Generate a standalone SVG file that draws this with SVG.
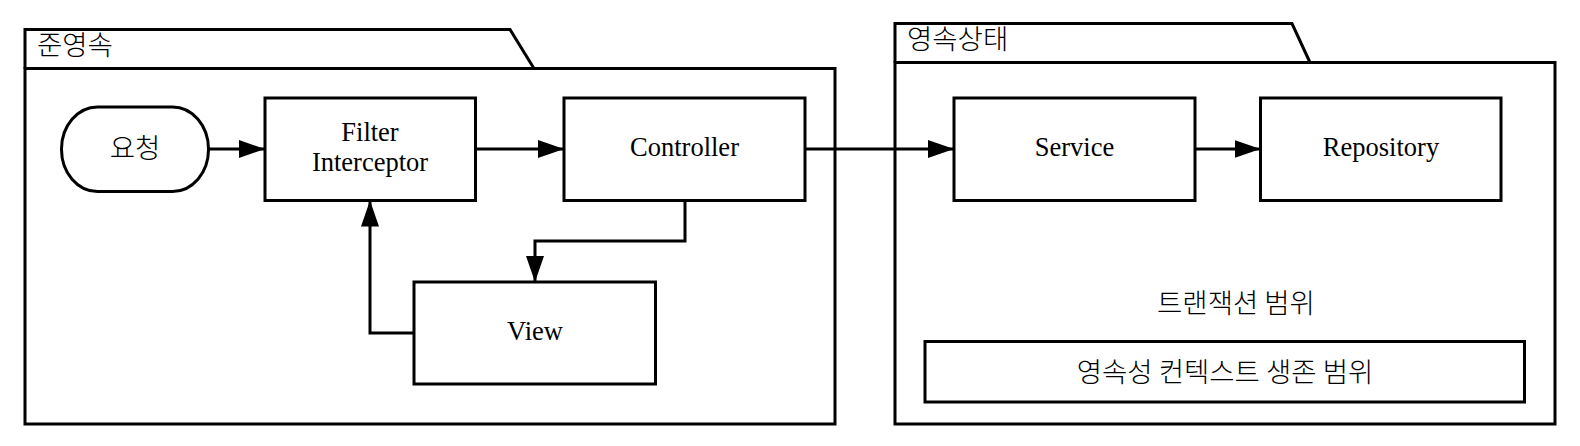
<svg xmlns="http://www.w3.org/2000/svg" width="1580" height="446" viewBox="0 0 1580 446">
<style>
.box{fill:#fff;stroke:#000;stroke-width:3}
.pkg{fill:none;stroke:#000;stroke-width:3}
.conn{fill:none;stroke:#000;stroke-width:3}
.lat{font-family:"Liberation Serif","Times New Roman",serif;font-size:26.5px;fill:#000;text-anchor:middle}
.kor{font-family:"Noto Sans CJK KR","Noto Sans",sans-serif;font-size:27.5px;fill:#000;font-weight:300}
.mid{text-anchor:middle}
</style>
<defs>
<marker id="arr" markerUnits="userSpaceOnUse" markerWidth="28" markerHeight="20" refX="26" refY="9" orient="auto">
<path d="M0,0 L26,9 L0,18 z" fill="#000"/>
</marker>
</defs>
<rect width="1580" height="446" fill="#fff"/>
<g id="pkg-detached">
<path class="pkg" d="M25,68.5 L25,29.5 L510,29.5 L534,68.5"/>
<rect class="pkg" x="25" y="68.5" width="810" height="355.5"/>
<text class="kor" x="37" y="55">준영속</text>
</g>
<g id="pkg-persistent">
<path class="pkg" d="M895,62.5 L895,23.5 L1292,23.5 L1310,62.5"/>
<rect class="pkg" x="895" y="62.5" width="660" height="361.5"/>
<text class="kor" x="907" y="49">영속상태</text>
<text class="kor mid" x="1236" y="313">트랜잭션 범위</text>
</g>
<g id="persistence-context">
<rect class="box" x="925" y="341.5" width="599.5" height="60.5"/>
<text class="kor mid" x="1225" y="382">영속성 컨텍스트 생존 범위</text>
</g>
<g id="request">
<rect class="box" x="61.5" y="107" width="147" height="84.5" rx="36" ry="42"/>
<text class="kor mid" x="135" y="158">요청</text>
</g>
<g id="filter">
<rect class="box" x="265" y="98" width="210.5" height="102.5"/>
<text class="lat" x="370" y="141">Filter</text>
<text class="lat" x="370" y="171">Interceptor</text>
</g>
<g id="controller">
<rect class="box" x="564" y="98" width="241" height="102.5"/>
<text class="lat" x="684.5" y="156">Controller</text>
</g>
<g id="view">
<rect class="box" x="414" y="282" width="241.5" height="102"/>
<text class="lat" x="535" y="340">View</text>
</g>
<g id="service">
<rect class="box" x="954" y="98" width="241" height="102.5"/>
<text class="lat" x="1074.5" y="156">Service</text>
</g>
<g id="repository">
<rect class="box" x="1260.5" y="98" width="240.5" height="102.5"/>
<text class="lat" x="1381" y="156">Repository</text>
</g>
<g id="connectors">
<path class="conn" marker-end="url(#arr)" d="M208.5,149 L265,149"/>
<path class="conn" marker-end="url(#arr)" d="M475.5,149 L564,149"/>
<path class="conn" marker-end="url(#arr)" d="M805,149 L954,149"/>
<path class="conn" marker-end="url(#arr)" d="M1195,149 L1260.5,149"/>
<path class="conn" marker-end="url(#arr)" d="M685,200.5 L685,241 L535,241 L535,282"/>
<path class="conn" marker-end="url(#arr)" d="M414,333 L370,333 L370,200.5"/>
</g>
</svg>
